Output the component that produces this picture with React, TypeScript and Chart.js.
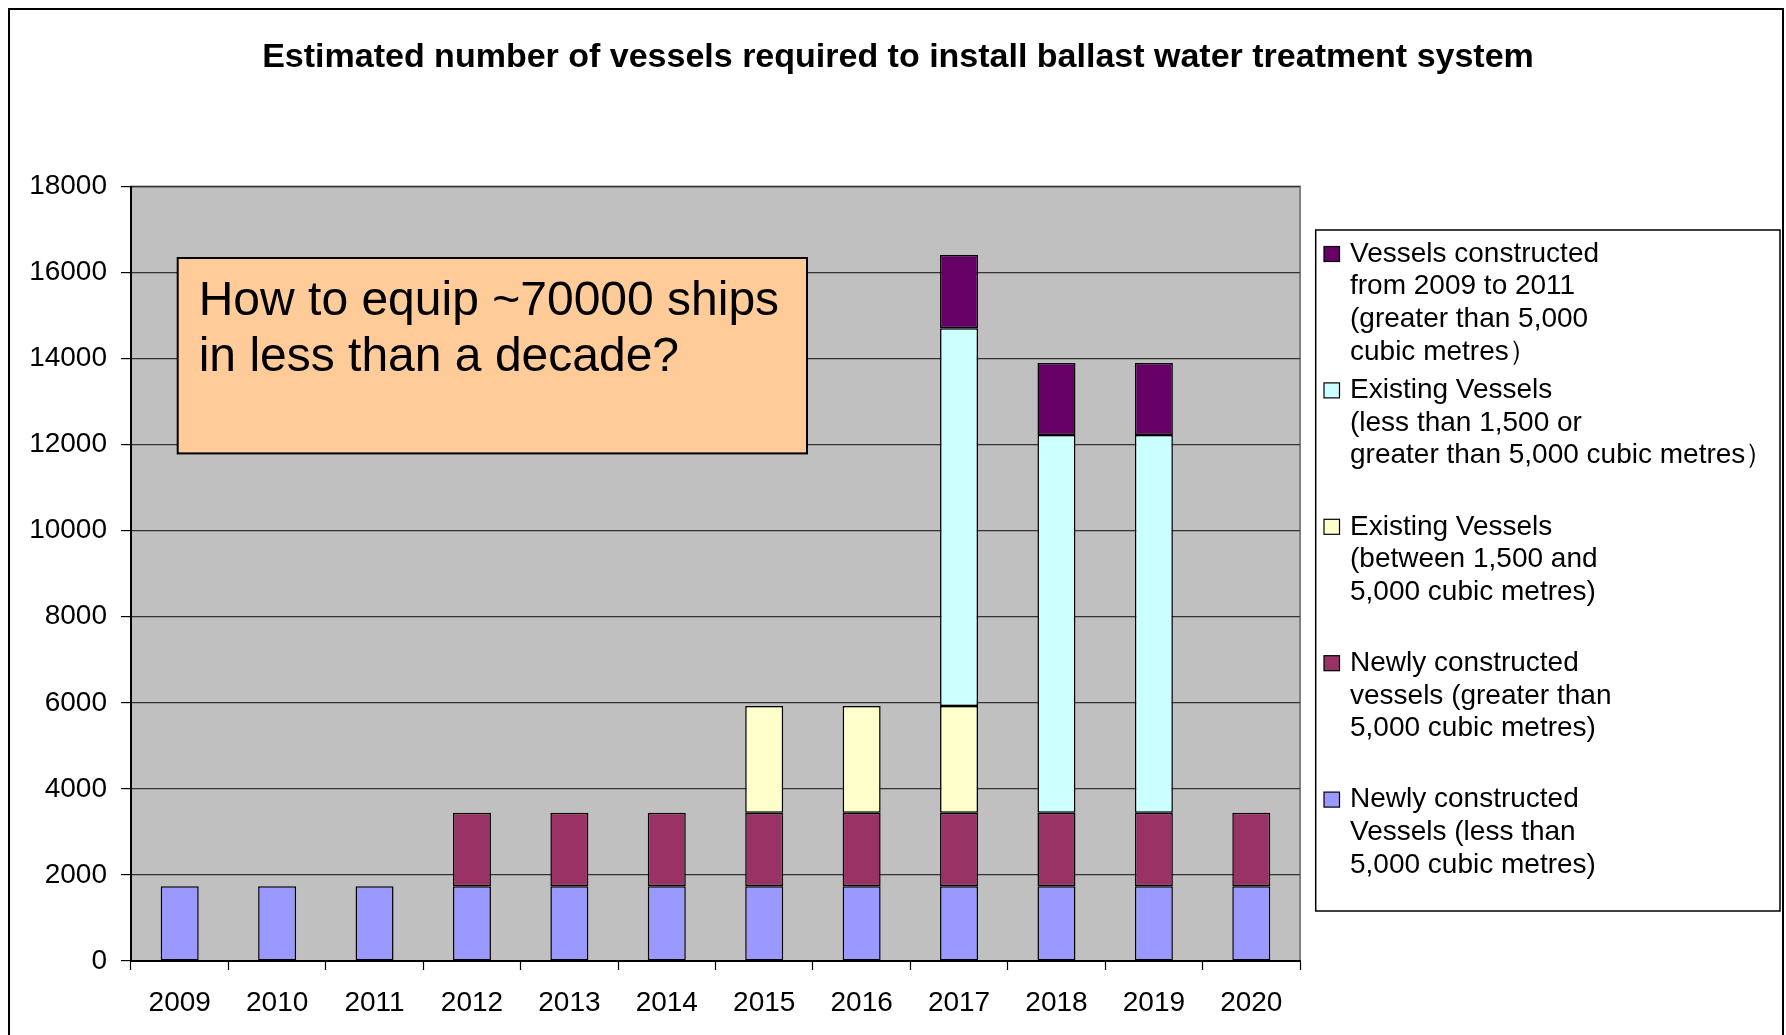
import React, { useEffect, useRef } from 'react';
import { Chart, registerables } from 'chart.js';

Chart.register(...registerables);

// ---------- data ----------
const categories = ['2009', '2010', '2011', '2012', '2013', '2014', '2015', '2016', '2017', '2018', '2019', '2020'];

const newSmallVessels = [1735, 1735, 1735, 1735, 1735, 1735, 1735, 1735, 1735, 1735, 1735, 1735];
const newLargeVessels = [null, null, null, 1710, 1710, 1710, 1710, 1710, 1710, 1710, 1710, 1710];
const existingMidVessels = [null, null, null, null, null, null, 2480, 2480, 2480, null, null, null];
const existingOtherVessels = [null, null, null, null, null, null, null, null, 8780, 8780, 8780, null];
const built2009to2011 = [null, null, null, null, null, null, null, null, 1705, 1675, 1675, null];

const yMin = 0;
const yMax = 18000;
const yStep = 2000;

const labelNewSmall = ['Newly constructed', 'Vessels (less than', '5,000 cubic metres)'];
const labelNewLarge = ['Newly constructed', 'vessels (greater than', '5,000 cubic metres)'];
const labelExistingMid = ['Existing Vessels', '(between 1,500 and', '5,000 cubic metres)'];
const labelExistingOther = ['Existing Vessels', '(less than 1,500 or', 'greater than 5,000 cubic metres\uFF09'];
const labelBuilt = ['Vessels constructed', 'from 2009 to 2011', '(greater than 5,000', 'cubic metres\uFF09'];

const colorNewSmall = '#9999FF';
const colorNewLarge = '#993366';
const colorExistingMid = '#FFFFCC';
const colorExistingOther = '#CCFFFF';
const colorBuilt = '#660066';

const chartTitle = 'Estimated number of vessels required to install ballast water treatment system';
const calloutLines = ['How to equip ~70000 ships', 'in less than a decade?'];

const FONT = '"Liberation Sans", Arial, Helvetica, sans-serif';

const decorPlugin = {
  id: 'decor',
  beforeDraw(chart: any) {
    const { ctx, chartArea: a } = chart;
    ctx.save();
    ctx.fillStyle = '#C0C0C0';
    ctx.fillRect(a.left, a.top, a.right - a.left, a.bottom - a.top);
    ctx.strokeStyle = '#808080';
    ctx.lineWidth = 2;
    ctx.strokeRect(a.left, a.top, a.right - a.left, a.bottom - a.top);
    ctx.fillStyle = '#000';
    ctx.font = `bold 34px ${FONT}`;
    ctx.textAlign = 'center';
    ctx.textBaseline = 'middle';
    ctx.fillText(chartTitle, 888, 47.5);
    ctx.restore();
  },
  afterDatasetsDraw(chart: any) {
    const { ctx } = chart;
    ctx.save();
    ctx.fillStyle = '#FFCC99';
    ctx.fillRect(167.7, 248, 629.3, 195.4);
    ctx.strokeStyle = '#000';
    ctx.lineWidth = 2;
    ctx.strokeRect(167.7, 248, 629.3, 195.4);
    ctx.fillStyle = '#000';
    ctx.font = `48px ${FONT}`;
    ctx.textAlign = 'left';
    ctx.textBaseline = 'alphabetic';
    calloutLines.forEach((ln, i) => ctx.fillText(ln, 188.7, 304.5 + i * 56.7));
    ctx.restore();
  },
  afterDraw(chart: any) {
    const { ctx } = chart;
    ctx.save();
    ctx.fillStyle = '#fff';
    ctx.fillRect(1305.7, 220, 464.3, 681);
    ctx.strokeStyle = '#000';
    ctx.lineWidth = 1.5;
    ctx.strokeRect(1305.7, 220, 464.3, 681);
    const ds = chart.data.datasets;
    const order = [4, 3, 2, 1, 0];
    ctx.font = `28px ${FONT}`;
    ctx.textAlign = 'left';
    ctx.textBaseline = 'middle';
    order.forEach((di: number, k: number) => {
      const d = ds[di];
      const cy = 244 + k * 136.4;
      ctx.fillStyle = d.backgroundColor;
      ctx.fillRect(1314, cy - 7.5, 15.5, 15);
      ctx.strokeStyle = '#000';
      ctx.lineWidth = 1.2;
      ctx.strokeRect(1314, cy - 7.5, 15.5, 15);
      ctx.fillStyle = '#000';
      (d.label as string[]).forEach((ln: string, j: number) => ctx.fillText(ln, 1340, cy + j * 32.6));
    });
    ctx.restore();
  },
};

export default function App() {
  const ref = useRef<HTMLCanvasElement>(null);

  useEffect(() => {
    if (!ref.current) return;
    const mk = (label: string[], data: (number | null)[], color: string) => ({
      label: label as any,
      data,
      backgroundColor: color,
      borderColor: '#000',
      borderWidth: 1.5,
      borderSkipped: false,
      categoryPercentage: 1,
      barPercentage: 0.39,
    });
    const chart = new Chart(ref.current, {
      type: 'bar',
      data: {
        labels: categories,
        datasets: [
          mk(labelNewSmall, newSmallVessels, colorNewSmall),
          mk(labelNewLarge, newLargeVessels, colorNewLarge),
          mk(labelExistingMid, existingMidVessels, colorExistingMid),
          mk(labelExistingOther, existingOtherVessels, colorExistingOther),
          mk(labelBuilt, built2009to2011, colorBuilt),
        ] as any,
      },
      options: {
        animation: false,
        responsive: false,
        layout: { padding: { left: 21, right: 482, top: 176.5, bottom: 0 } },
        plugins: {
          legend: { display: false },
          title: { display: false },
          tooltip: { enabled: false },
        },
        scales: {
          x: {
            stacked: true,
            afterFit: (s: any) => { s.height = 79; },
            grid: {
              display: true,
              offset: true,
              drawOnChartArea: false,
              drawTicks: true,
              tickLength: 9,
              tickColor: '#000',
              tickWidth: 1.2,
            },
            border: { display: true, color: '#000', width: 2 },
            ticks: {
              color: '#000',
              font: { family: FONT, size: 28 },
              padding: 16,
              maxRotation: 0,
              autoSkip: false,
            },
          },
          y: {
            stacked: true,
            min: yMin,
            max: yMax,
            afterFit: (s: any) => { s.width = 100; },
            grid: {
              color: '#333',
              lineWidth: 1.2,
              drawTicks: true,
              tickLength: 10,
              tickColor: '#000',
              tickWidth: 1.2,
            },
            border: { display: true, color: '#000', width: 2 },
            ticks: {
              stepSize: yStep,
              color: '#000',
              font: { family: FONT, size: 28 },
              padding: 14,
              callback: (v: any) => String(v),
            },
          },
        },
      },
      plugins: [decorPlugin],
    } as any);
    return () => chart.destroy();
  }, []);

  return (
    <div
      style={{
        position: 'fixed',
        left: 8,
        top: 8,
        width: 1776,
        height: 1040,
        border: '2px solid #000',
        boxSizing: 'border-box',
        background: '#fff',
        overflow: 'hidden',
      }}
    >
      <canvas ref={ref} width={1772} height={1030} style={{ display: 'block' }} />
    </div>
  );
}
